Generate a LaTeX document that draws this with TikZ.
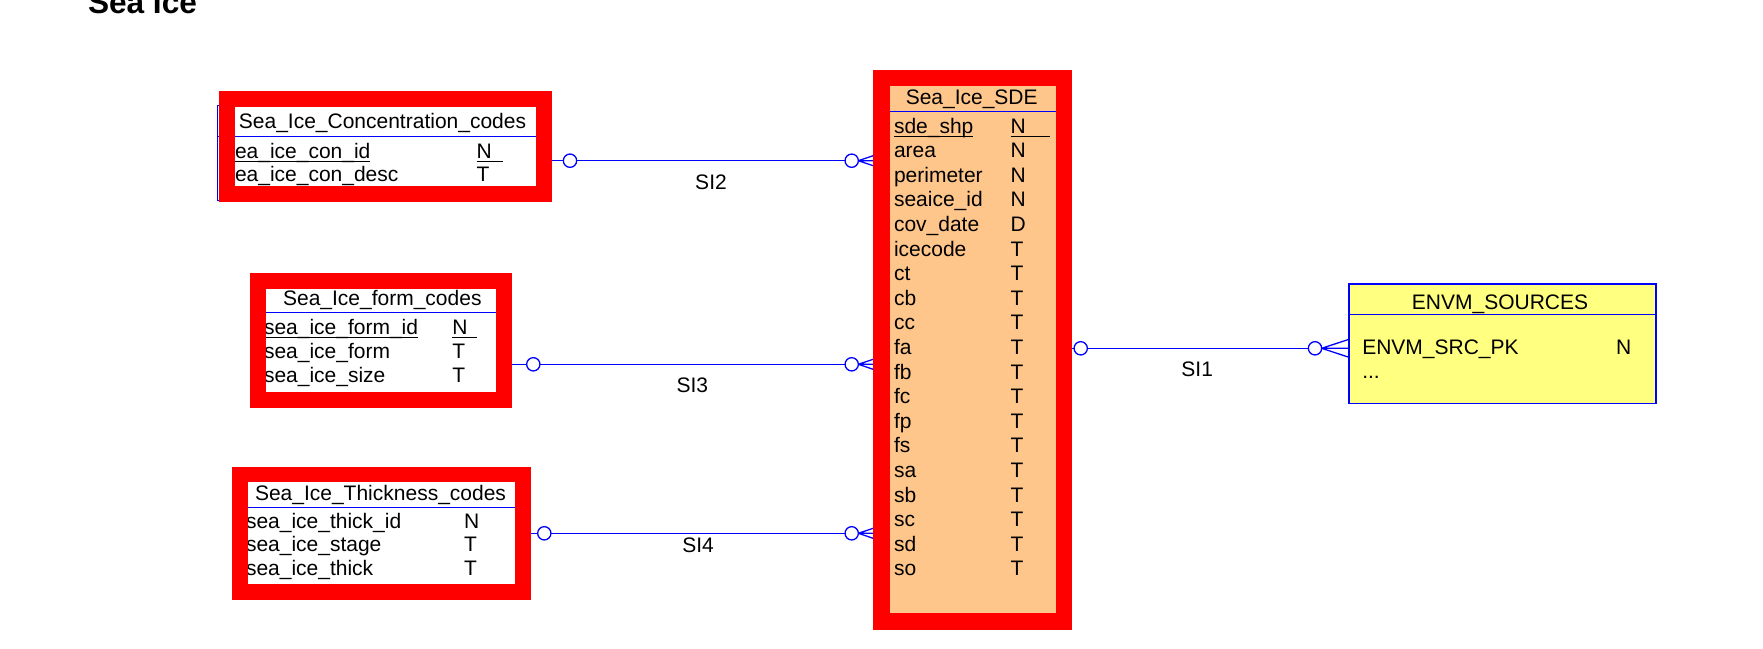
\documentclass[tikz,border=0pt]{standalone}
\usepackage{fontspec}
\setmainfont{Liberation Sans}
\definecolor{sdeorange}{RGB}{255,198,140}
\definecolor{envyellow}{RGB}{255,255,128}
\definecolor{framered}{RGB}{255,0,0}
\definecolor{relblue}{RGB}{0,0,255}
\newcommand{\keyline}[1]{\setbox0\hbox{#1}\rlap{\rule[-4pt]{\wd0}{1.3pt}}\box0}

\begin{document}
\begin{tikzpicture}[x=1pt,y=-1pt,
	every node/.style={inner sep=0,outer sep=0,font=\fontsize{21}{25}\selectfont},
	fld/.style={anchor=base west},
	hdr/.style={anchor=base},
	ring/.style={circle,draw=relblue,fill=white,line width=1.3pt,minimum size=13.3pt},
	rel/.style={draw=relblue,line width=1.3pt},
	frame/.style={draw=framered,line width=16pt}]
	\useasboundingbox (0,0) rectangle (1763,648);
	\node[fld,font=\bfseries\fontsize{31.6}{36}\selectfont] (title) at (88,13) {Sea Ice};
	% Sea_Ice_Concentration_codes
	\draw[relblue,fill=white,line width=1pt] (217,105) rectangle (548,200);
	\draw[relblue,line width=1pt] (217,136) -- (548,136);
	\node[hdr] (conchd) at (382.5,128) {Sea\_Ice\_Concentration\_codes};
	\node[fld] (conc1) at (224.5,158.3) {\keyline{sea\_ice\_con\_id}};
	\node[fld] (conc2) at (224.5,181) {sea\_ice\_con\_desc};
	\node[fld] (conct1) at (476.7,158.3) {\keyline{N\hspace{11pt}}};
	\node[fld] (conct2) at (476.7,181) {T};
	% Sea_Ice_form_codes
	\fill[white] (258,281) rectangle (504,400);
	\draw[relblue,line width=1pt] (258,312.7) -- (504,312.7);
	\node[hdr] (formhd) at (382.3,305) {Sea\_Ice\_form\_codes};
	\node[fld] (form1) at (264,334) {\keyline{sea\_ice\_form\_id}};
	\node[fld] (form2) at (264,358.3) {sea\_ice\_form};
	\node[fld] (form3) at (264,382.7) {sea\_ice\_size};
	\node[fld] (formt1) at (452.3,334) {\keyline{N\hspace{10pt}}};
	\node[fld] (formt2) at (452.3,358.3) {T};
	\node[fld] (formt3) at (452.3,382.7) {T};
	% Sea_Ice_Thickness_codes
	\fill[white] (240,474) rectangle (523,592);
	\draw[relblue,line width=1pt] (240,507.3) -- (523,507.3);
	\node[hdr] (thickhd) at (380.5,500) {Sea\_Ice\_Thickness\_codes};
	\node[fld] (thick1) at (246,528.3) {sea\_ice\_thick\_id};
	\node[fld] (thick2) at (246,551.7) {sea\_ice\_stage};
	\node[fld] (thick3) at (246,575.7) {sea\_ice\_thick};
	\node[fld] (thickt1) at (464,528.3) {N};
	\node[fld] (thickt2) at (464,551.7) {T};
	\node[fld] (thickt3) at (464,575.7) {T};
	% Sea_Ice_SDE
	\fill[sdeorange] (882,78) rectangle (1064,621);
	\draw[relblue,line width=1pt] (882,111.7) -- (1064,111.7);
	\node[hdr] (sdehd) at (971.7,104.3) {Sea\_Ice\_SDE};
	\node[fld] (sde1) at (894,133) {\keyline{sde\_shp}};
	\node[fld] (sde2) at (894,157.6) {area};
	\node[fld] (sde3) at (894,182.2) {perimeter};
	\node[fld] (sde4) at (894,206.8) {seaice\_id};
	\node[fld] (sde5) at (894,231.4) {cov\_date};
	\node[fld] (sde6) at (894,256) {icecode};
	\node[fld] (sde7) at (894,280.6) {ct};
	\node[fld] (sde8) at (894,305.2) {cb};
	\node[fld] (sde9) at (894,329.8) {cc};
	\node[fld] (sde10) at (894,354.4) {fa};
	\node[fld] (sde11) at (894,379) {fb};
	\node[fld] (sde12) at (894,403.6) {fc};
	\node[fld] (sde13) at (894,428.2) {fp};
	\node[fld] (sde14) at (894,452.8) {fs};
	\node[fld] (sde15) at (894,477.4) {sa};
	\node[fld] (sde16) at (894,502) {sb};
	\node[fld] (sde17) at (894,526.6) {sc};
	\node[fld] (sde18) at (894,551.2) {sd};
	\node[fld] (sde19) at (894,575.8) {so};
	\node[fld] (sdet1) at (1010.7,133) {\keyline{N\hspace{24pt}}};
	\node[fld] (sdet2) at (1010.7,157.6) {N};
	\node[fld] (sdet3) at (1010.7,182.2) {N};
	\node[fld] (sdet4) at (1010.7,206.8) {N};
	\node[fld] (sdet5) at (1010.7,231.4) {D};
	\node[fld] (sdet6) at (1010.7,256) {T};
	\node[fld] (sdet7) at (1010.7,280.6) {T};
	\node[fld] (sdet8) at (1010.7,305.2) {T};
	\node[fld] (sdet9) at (1010.7,329.8) {T};
	\node[fld] (sdet10) at (1010.7,354.4) {T};
	\node[fld] (sdet11) at (1010.7,379) {T};
	\node[fld] (sdet12) at (1010.7,403.6) {T};
	\node[fld] (sdet13) at (1010.7,428.2) {T};
	\node[fld] (sdet14) at (1010.7,452.8) {T};
	\node[fld] (sdet15) at (1010.7,477.4) {T};
	\node[fld] (sdet16) at (1010.7,502) {T};
	\node[fld] (sdet17) at (1010.7,526.6) {T};
	\node[fld] (sdet18) at (1010.7,551.2) {T};
	\node[fld] (sdet19) at (1010.7,575.8) {T};
	% ENVM_SOURCES
	\draw[relblue,fill=envyellow,line width=1.2pt] (1349,284) rectangle (1656,403.3);
	\draw[relblue,line width=1pt] (1349,314) -- (1656,314);
	\node[hdr] (envmhd) at (1500,309) {ENVM\_SOURCES};
	\node[fld] (envm1) at (1362.3,354) {ENVM\_SRC\_PK};
	\node[fld] (envm2) at (1362.3,378) {...};
	\node[fld] (envmt1) at (1616,354) {N};
	% SI2
	\coordinate (concE) at (552,160.7);
	\coordinate (sdeW2) at (885,160.7);
	\node[ring] (r2a) at (570,160.7) {};
	\node[ring] (r2b) at (851.7,160.7) {};
	\draw[rel] (concE) -- (r2a) -- (r2b);
	\draw[rel] (r2b.east) -- (sdeW2) (r2b.east) -- ([yshift=9pt]sdeW2) (r2b.east) -- ([yshift=-9pt]sdeW2);
	\node[hdr] (si2) at (711,189.3) {SI2};
	% SI3
	\coordinate (formE) at (511.7,364.3);
	\coordinate (sdeW3) at (885,364.3);
	\node[ring] (r3a) at (533.3,364.3) {};
	\node[ring] (r3b) at (851.7,364.3) {};
	\draw[rel] (formE) -- (r3a) -- (r3b);
	\draw[rel] (r3b.east) -- (sdeW3) (r3b.east) -- ([yshift=9pt]sdeW3) (r3b.east) -- ([yshift=-9pt]sdeW3);
	\node[hdr] (si3) at (692.3,392) {SI3};
	% SI4
	\coordinate (thickE) at (530.7,533.3);
	\coordinate (sdeW4) at (885,533.3);
	\node[ring] (r4a) at (544.3,533.3) {};
	\node[ring] (r4b) at (851.7,533.3) {};
	\draw[rel] (thickE) -- (r4a) -- (r4b);
	\draw[rel] (r4b.east) -- (sdeW4) (r4b.east) -- ([yshift=9pt]sdeW4) (r4b.east) -- ([yshift=-9pt]sdeW4);
	\node[hdr] (si4) at (698,552.5) {SI4};
	% SI1
	\coordinate (sdeE) at (1072.3,348.3);
	\coordinate (envmW) at (1349,348.3);
	\node[ring] (r1a) at (1080.7,348.3) {};
	\node[ring] (r1b) at (1315,348.3) {};
	\draw[rel] (sdeE) -- (r1a) -- (r1b);
	\draw[rel] (r1b.east) -- (envmW) (r1b.east) -- ([yshift=9pt]envmW) (r1b.east) -- ([yshift=-9pt]envmW);
	\node[hdr] (si1) at (1197.2,376) {SI1};
	% red frames
	\draw[frame] (227,99) rectangle (544,194);
	\draw[frame] (258.3,281.3) rectangle (504.2,399.7);
	\draw[frame,line width=15.6pt] (240,474.5) rectangle (522.8,592.2);
	\draw[frame,line width=16.5pt] (881.7,78) rectangle (1064.2,621.3);
\end{tikzpicture}
\end{document}
